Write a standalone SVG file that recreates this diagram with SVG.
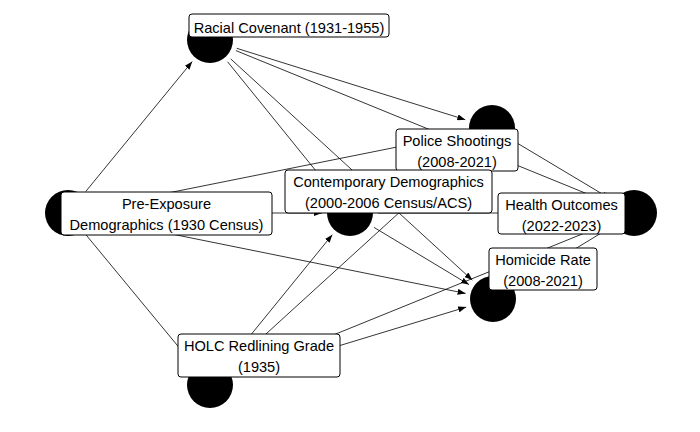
<svg xmlns="http://www.w3.org/2000/svg" width="700" height="432" viewBox="0 0 700 432">
<defs>
<marker id="arr" viewBox="0 0 8 6" refX="8" refY="3" markerWidth="8" markerHeight="6" markerUnits="userSpaceOnUse" orient="auto">
<path d="M0,0 L8,3 L0,6 z" fill="#000"/>
</marker>
</defs>
<style>
.e{stroke:#000;stroke-width:0.8;fill:none;marker-end:url(#arr)}
.n{fill:#000}
.b{fill:#fff;stroke:#000;stroke-width:1}
.t{font-family:"Liberation Sans",Arial,sans-serif;font-size:14.6px;fill:#000;text-anchor:middle}
</style>
<rect width="700" height="432" fill="#fff"/>
<g id="connectors">
<line class="e" x1="85.8" y1="191.4" x2="192.2" y2="61.6"/>
<line class="e" x1="85.8" y1="234.6" x2="192.2" y2="363.4"/>
<line class="e" x1="96" y1="213" x2="322" y2="213"/>
<line class="e" x1="95.5" y1="207.5" x2="464.5" y2="133.5"/>
<line class="e" x1="95.4" y1="218.6" x2="465.6" y2="293.4"/>
<line class="e" x1="236.7" y1="48.3" x2="465.3" y2="119.7"/>
<line class="e" x1="235.9" y1="50.6" x2="608.1" y2="202.4"/>
<line class="e" x1="227.6" y1="61.8" x2="332.4" y2="191.2"/>
<line class="e" x1="230.7" y1="58.9" x2="472.3" y2="280.1"/>
<line class="e" x1="227.7" y1="363.3" x2="332.3" y2="234.7"/>
<line class="e" x1="230.7" y1="366.1" x2="471.3" y2="146.9"/>
<line class="e" x1="236.8" y1="376.9" x2="466.2" y2="307.1"/>
<line class="e" x1="235.9" y1="374.5" x2="608.1" y2="223.5"/>
<line class="e" x1="374" y1="227.4" x2="469" y2="284.6"/>
<line class="e" x1="378" y1="213" x2="606" y2="213"/>
<line class="e" x1="516" y1="142.4" x2="610" y2="198.6"/>
<line class="e" x1="516.9" y1="284.4" x2="610.1" y2="227.6"/>
</g>
<g id="node-pre-exposure"><circle class="n" cx="68" cy="213" r="23"/></g>
<g id="node-racial-covenant"><circle class="n" cx="210" cy="40" r="23"/></g>
<g id="node-holc"><circle class="n" cx="210" cy="385" r="23"/></g>
<g id="node-contemporary"><circle class="n" cx="350" cy="213" r="23"/></g>
<g id="node-police"><circle class="n" cx="492" cy="128" r="23"/></g>
<g id="node-homicide"><circle class="n" cx="493" cy="299" r="23"/></g>
<g id="node-health"><circle class="n" cx="634" cy="213" r="23"/></g>
<g id="label-racial-covenant">
<rect class="b" x="189" y="14" width="200" height="23" rx="3"/>
<text class="t" x="289" y="33">Racial Covenant (1931-1955)</text>
</g>
<g id="label-pre-exposure">
<rect class="b" x="61" y="192" width="211" height="43" rx="3"/>
<text class="t" x="166.5" y="209">Pre-Exposure</text>
<text class="t" x="166.5" y="230">Demographics (1930 Census)</text>
</g>
<g id="label-police">
<rect class="b" x="396" y="129" width="122" height="42" rx="3"/>
<text class="t" x="457" y="146">Police Shootings</text>
<text class="t" x="457" y="167">(2008-2021)</text>
</g>
<g id="label-contemporary">
<rect class="b" x="285" y="170" width="207" height="43" rx="3"/>
<text class="t" x="388.5" y="187">Contemporary Demographics</text>
<text class="t" x="388.5" y="208">(2000-2006 Census/ACS)</text>
</g>
<g id="label-health">
<rect class="b" x="498" y="193" width="127" height="41" rx="3"/>
<text class="t" x="561.5" y="210">Health Outcomes</text>
<text class="t" x="561.5" y="231">(2022-2023)</text>
</g>
<g id="label-homicide">
<rect class="b" x="489" y="248" width="108" height="42" rx="3"/>
<text class="t" x="543" y="265">Homicide Rate</text>
<text class="t" x="543" y="286">(2008-2021)</text>
</g>
<g id="label-holc">
<rect class="b" x="178" y="334" width="162" height="43" rx="3"/>
<text class="t" x="259" y="351">HOLC Redlining Grade</text>
<text class="t" x="259" y="372">(1935)</text>
</g>
</svg>
